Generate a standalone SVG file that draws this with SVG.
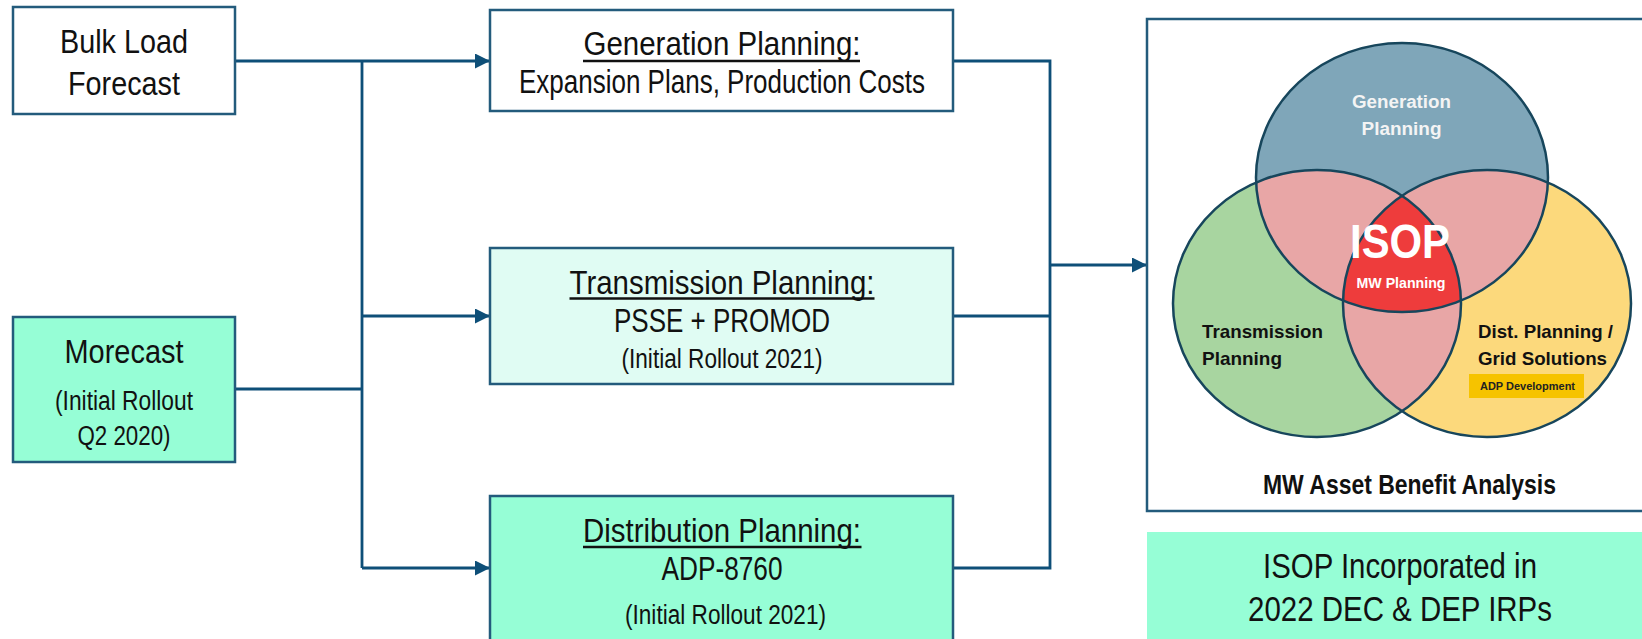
<svg xmlns="http://www.w3.org/2000/svg" width="1642" height="639" viewBox="0 0 1642 639">
<style>
.box{stroke:#235b7c;stroke-width:2.5}
.w{fill:#ffffff}
.mint{fill:#96fed6}
.lmint{fill:#e0fcf3}
.t{font-family:"Liberation Sans",Arial,sans-serif;fill:#111;text-anchor:middle}
.big{font-size:33px}
.sm{font-size:27px}
.ul{stroke:#111;stroke-width:2.7}
.c{fill:none;stroke:#0e4f78;stroke-width:2.8}
.v{font-family:"Liberation Sans",Arial,sans-serif;font-weight:bold}
.ve{fill:none;stroke:#17465c;stroke-width:2.5}
</style>
<defs>
<marker id="ah" markerWidth="16" markerHeight="16" refX="15" refY="7.5" orient="auto" markerUnits="userSpaceOnUse">
<path d="M0,0 L15,7.5 L0,15 Z" fill="#0e4f78"/>
</marker>
<clipPath id="cl"><ellipse cx="1317" cy="303.5" rx="144" ry="133.5"/></clipPath>
<clipPath id="cr"><ellipse cx="1487" cy="303.5" rx="144" ry="133.5"/></clipPath>
<clipPath id="ct"><ellipse cx="1402" cy="177.5" rx="146" ry="134.5"/></clipPath>
</defs>

<g id="connectors">
<path class="c" d="M235,61 H490" marker-end="url(#ah)"/>
<path class="c" d="M362,61 V568"/>
<path class="c" d="M235,389 H362"/>
<path class="c" d="M362,316 H490" marker-end="url(#ah)"/>
<path class="c" d="M362,568 H490" marker-end="url(#ah)"/>
<path class="c" d="M953,61 H1050 V568 H953"/>
<path class="c" d="M953,316 H1050"/>
<path class="c" d="M1050,265 H1147" marker-end="url(#ah)"/>
</g>

<g id="bulk-load-forecast">
<rect class="box w" x="13" y="7" width="222" height="107"/>
<text class="t big" x="124" y="53" textLength="128" lengthAdjust="spacingAndGlyphs">Bulk Load</text>
<text class="t big" x="124" y="95" textLength="112" lengthAdjust="spacingAndGlyphs">Forecast</text>
</g>

<g id="morecast">
<rect class="box mint" x="13" y="317" width="222" height="145"/>
<text class="t big" x="124" y="363" textLength="119" lengthAdjust="spacingAndGlyphs">Morecast</text>
<text class="t sm" x="124" y="410" textLength="138" lengthAdjust="spacingAndGlyphs">(Initial Rollout</text>
<text class="t sm" x="124" y="445" textLength="93" lengthAdjust="spacingAndGlyphs">Q2 2020)</text>
</g>

<g id="generation-planning">
<rect class="box w" x="490" y="10" width="463" height="101"/>
<text class="t big" x="722" y="55" textLength="277" lengthAdjust="spacingAndGlyphs">Generation Planning:</text>
<line class="ul" x1="583" y1="61" x2="860" y2="61"/>
<text class="t big" x="722" y="93" textLength="406" lengthAdjust="spacingAndGlyphs">Expansion Plans, Production Costs</text>
</g>

<g id="transmission-planning">
<rect class="box lmint" x="490" y="248" width="463" height="136"/>
<text class="t big" x="722" y="294" textLength="305" lengthAdjust="spacingAndGlyphs">Transmission Planning:</text>
<line class="ul" x1="569.5" y1="298.5" x2="874.5" y2="298.5"/>
<text class="t big" x="722" y="332" textLength="216" lengthAdjust="spacingAndGlyphs">PSSE + PROMOD</text>
<text class="t sm" x="722" y="368" textLength="201" lengthAdjust="spacingAndGlyphs">(Initial Rollout 2021)</text>
</g>

<g id="distribution-planning">
<rect class="box mint" x="490" y="496" width="463" height="160"/>
<text class="t big" x="722" y="542" textLength="278" lengthAdjust="spacingAndGlyphs">Distribution Planning:</text>
<line class="ul" x1="583" y1="547" x2="861.5" y2="547"/>
<text class="t big" x="722" y="580" textLength="121" lengthAdjust="spacingAndGlyphs">ADP-8760</text>
<text class="t sm" x="725.5" y="624" textLength="201" lengthAdjust="spacingAndGlyphs">(Initial Rollout 2021)</text>
</g>

<g id="venn-panel">
<rect class="box w" x="1147" y="19" width="520" height="492"/>
<ellipse cx="1402" cy="177.5" rx="146" ry="134.5" fill="#7fa6b9"/>
<ellipse cx="1317" cy="303.5" rx="144" ry="133.5" fill="#a8d5a0"/>
<ellipse cx="1487" cy="303.5" rx="144" ry="133.5" fill="#fcd97c"/>
<g clip-path="url(#ct)">
<rect x="1150" y="20" width="490" height="430" fill="#e8a6a6" clip-path="url(#cl)"/>
<rect x="1150" y="20" width="490" height="430" fill="#e8a6a6" clip-path="url(#cr)"/>
</g>
<g clip-path="url(#cl)">
<rect x="1150" y="20" width="490" height="430" fill="#e8a6a6" clip-path="url(#cr)"/>
</g>
<g clip-path="url(#ct)"><g clip-path="url(#cl)">
<rect x="1150" y="20" width="490" height="430" fill="#ee3c3c" clip-path="url(#cr)"/>
</g></g>
<ellipse class="ve" cx="1402" cy="177.5" rx="146" ry="134.5"/>
<ellipse class="ve" cx="1317" cy="303.5" rx="144" ry="133.5"/>
<ellipse class="ve" cx="1487" cy="303.5" rx="144" ry="133.5"/>
<text class="v" x="1401.5" y="108" font-size="18" fill="#f4f4f4" text-anchor="middle" textLength="99" lengthAdjust="spacingAndGlyphs">Generation</text>
<text class="v" x="1401.5" y="135" font-size="18" fill="#f4f4f4" text-anchor="middle" textLength="80" lengthAdjust="spacingAndGlyphs">Planning</text>
<text class="v" x="1400" y="258" font-size="49" fill="#fff" text-anchor="middle" textLength="100" lengthAdjust="spacingAndGlyphs">ISOP</text>
<text class="v" x="1401" y="288" font-size="15" fill="#fff" text-anchor="middle" textLength="89" lengthAdjust="spacingAndGlyphs">MW Planning</text>
<text class="v" x="1202" y="338" font-size="19" fill="#111" textLength="121" lengthAdjust="spacingAndGlyphs">Transmission</text>
<text class="v" x="1202" y="365" font-size="19" fill="#111" textLength="80" lengthAdjust="spacingAndGlyphs">Planning</text>
<text class="v" x="1478" y="338" font-size="19" fill="#111" textLength="135" lengthAdjust="spacingAndGlyphs">Dist. Planning /</text>
<text class="v" x="1478" y="365" font-size="19" fill="#111" textLength="129" lengthAdjust="spacingAndGlyphs">Grid Solutions</text>
<rect x="1469" y="374" width="115" height="24" fill="#f6c300"/>
<text class="v" x="1480" y="390" font-size="11" fill="#222" textLength="95" lengthAdjust="spacingAndGlyphs">ADP Development</text>
<text class="t" x="1409.5" y="494" font-size="27" font-weight="bold" textLength="293" lengthAdjust="spacingAndGlyphs">MW Asset Benefit Analysis</text>
</g>

<g id="isop-incorporated">
<rect x="1147" y="532" width="500" height="110" class="mint"/>
<text class="t" x="1400" y="578" font-size="35" textLength="274" lengthAdjust="spacingAndGlyphs">ISOP Incorporated in</text>
<text class="t" x="1400" y="621" font-size="35" textLength="304" lengthAdjust="spacingAndGlyphs">2022 DEC &amp; DEP IRPs</text>
</g>
</svg>
